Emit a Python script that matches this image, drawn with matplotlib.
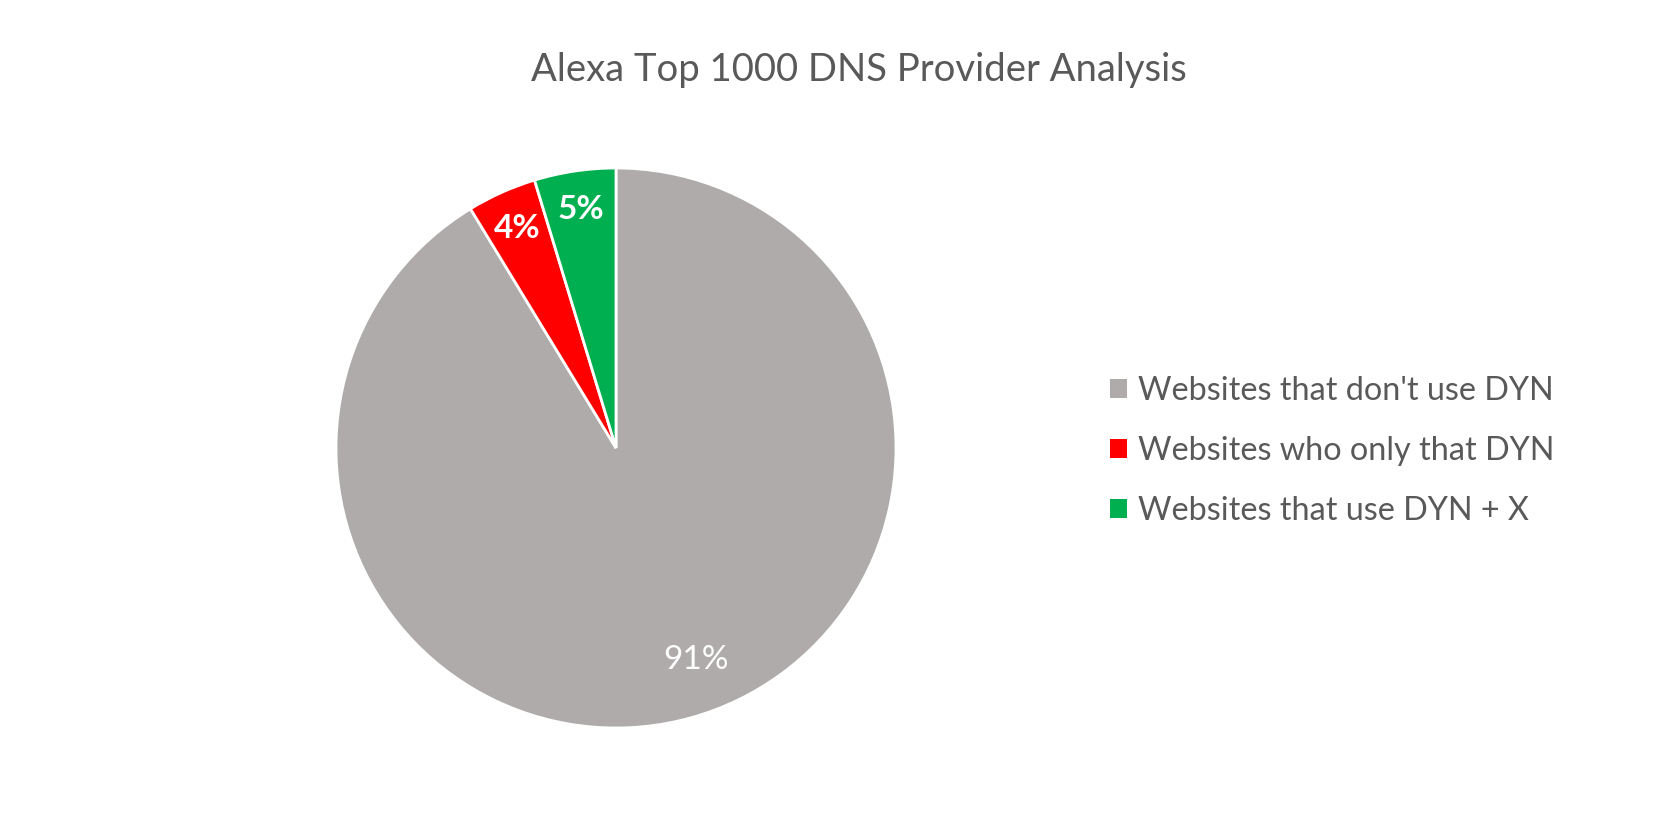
import matplotlib
matplotlib.use("Agg")
import matplotlib.pyplot as plt
import numpy as np
from matplotlib.patches import Patch

title = "Alexa Top 1000 DNS Provider Analysis"
categories = ["Websites that don't use DYN", "Websites who only that DYN", "Websites that use DYN + X"]
values = [913, 40, 47]
colors = ["#AFABAB", "#FF0000", "#00B050"]

plt.rcParams['font.family'] = ['Lato', 'DejaVu Sans']
text_color = "#595959"

W, H = 1656, 840
fig = plt.figure(figsize=(W / 100, H / 100), dpi=100)
fig.patch.set_facecolor("white")

cx, cy, r = 616, 448, 280
ax = fig.add_axes([(cx - r) / W, (H - cy - r) / H, 2 * r / W, 2 * r / H])
wedges, texts, autotexts = ax.pie(
    values, colors=colors, startangle=90, counterclock=False,
    autopct=lambda p: f"{p:.0f}%", pctdistance=0.86,
    wedgeprops=dict(edgecolor="white", linewidth=2),
    textprops=dict(color="white", fontsize=24),
)
ax.set_xlim(-1, 1)
ax.set_ylim(-1, 1)
ax.set_aspect("equal")
autotexts[0].set_fontweight("normal")
autotexts[1].set_fontweight("bold")
autotexts[2].set_fontweight("bold")

# Excel "best fit" nudges the big-slice label slightly off the slice's mid-angle
w0 = wedges[0]
ang = np.deg2rad((w0.theta1 + w0.theta2) / 2 + 5)
autotexts[0].set_position((0.81 * np.cos(ang), 0.81 * np.sin(ang)))

fig.text(859 / W, 1 - 70 / H, title, ha="center", va="center", fontsize=27.5, color=text_color)

handles = [Patch(facecolor=c, edgecolor="none") for c in colors]
leg = fig.legend(handles, categories, loc="center left",
                 bbox_to_anchor=(1081 / W, 1 - 451 / H),
                 frameon=False, fontsize=23.3, handlelength=0.52, handleheight=0.52,
                 handletextpad=0.35, labelspacing=0.92, labelcolor=text_color)

fig.savefig("out.png", dpi=100, facecolor="white")
